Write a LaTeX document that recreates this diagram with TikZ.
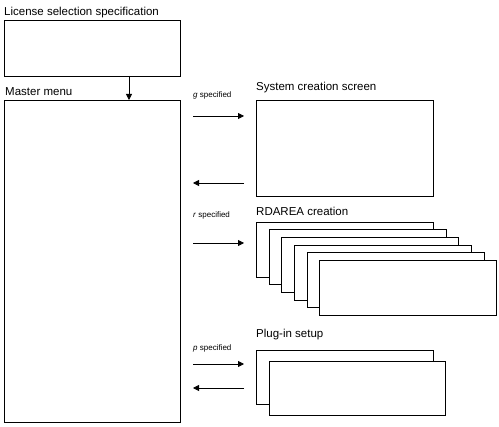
\documentclass[tikz,border=0pt]{standalone}
\usepackage{fontspec}
\setmainfont{Liberation Sans}
\usetikzlibrary{arrows.meta}
\begin{document}
\begin{tikzpicture}[x=1pt,y=-1pt,
  box/.style={draw,fill=white,line width=0.8pt},
  ttl/.style={anchor=base west,inner sep=0pt,font=\fontsize{11.5}{13}\selectfont},
  lbl/.style={anchor=base west,inner sep=0pt,font=\fontsize{8}{9}\selectfont},
  arr/.style={line width=0.8pt,-{Triangle[length=6pt,width=6pt]}}]
\useasboundingbox (0,0) rectangle (499,427);
% boxes
\draw[box] (4,20) rectangle (180,76);
\coordinate (lictop) at (129,76);
\draw[box] (4,100) rectangle (180,422);
\coordinate (mmtop) at (129,100);
\draw[box] (256,100) rectangle (433,196);
\foreach \i/\dx/\dy in {0/0/0,1/13/7,2/25/15,3/38/23,4/51/30,5/63/38}{
  \draw[box] (256+\dx,222+\dy) rectangle (433+\dx,277+\dy);
}
\draw[box] (256,350) rectangle (433,404);
\draw[box] (269,361) rectangle (445,415);
% titles
\node[ttl] (t1) at (4,16) {License selection specification};
\node[ttl] (t2) at (5,96) {Master menu};
\node[ttl] (t3) at (256,91) {System creation screen};
\node[ttl] (t4) at (256,216) {RDAREA creation};
\node[ttl] (t5) at (256,338) {Plug-in setup};
% labels
\node[lbl] (l1) at (193,98) {\textit{g} specified};
\node[lbl] (l2) at (193,218) {\textit{r} specified};
\node[lbl] (l3) at (193,351) {\textit{p} specified};
% arrows
\coordinate (a1s) at (193,116); \coordinate (a1e) at (244,116);
\coordinate (b1s) at (244,183); \coordinate (b1e) at (193,183);
\coordinate (a2s) at (193,243); \coordinate (a2e) at (244,243);
\coordinate (a3s) at (193,364); \coordinate (a3e) at (244,364);
\coordinate (b3s) at (244,388); \coordinate (b3e) at (193,388);
\draw[arr] (lictop) -- (mmtop);
\draw[arr] (a1s) -- (a1e);
\draw[arr] (b1s) -- (b1e);
\draw[arr] (a2s) -- (a2e);
\draw[arr] (a3s) -- (a3e);
\draw[arr] (b3s) -- (b3e);
\end{tikzpicture}
\end{document}
